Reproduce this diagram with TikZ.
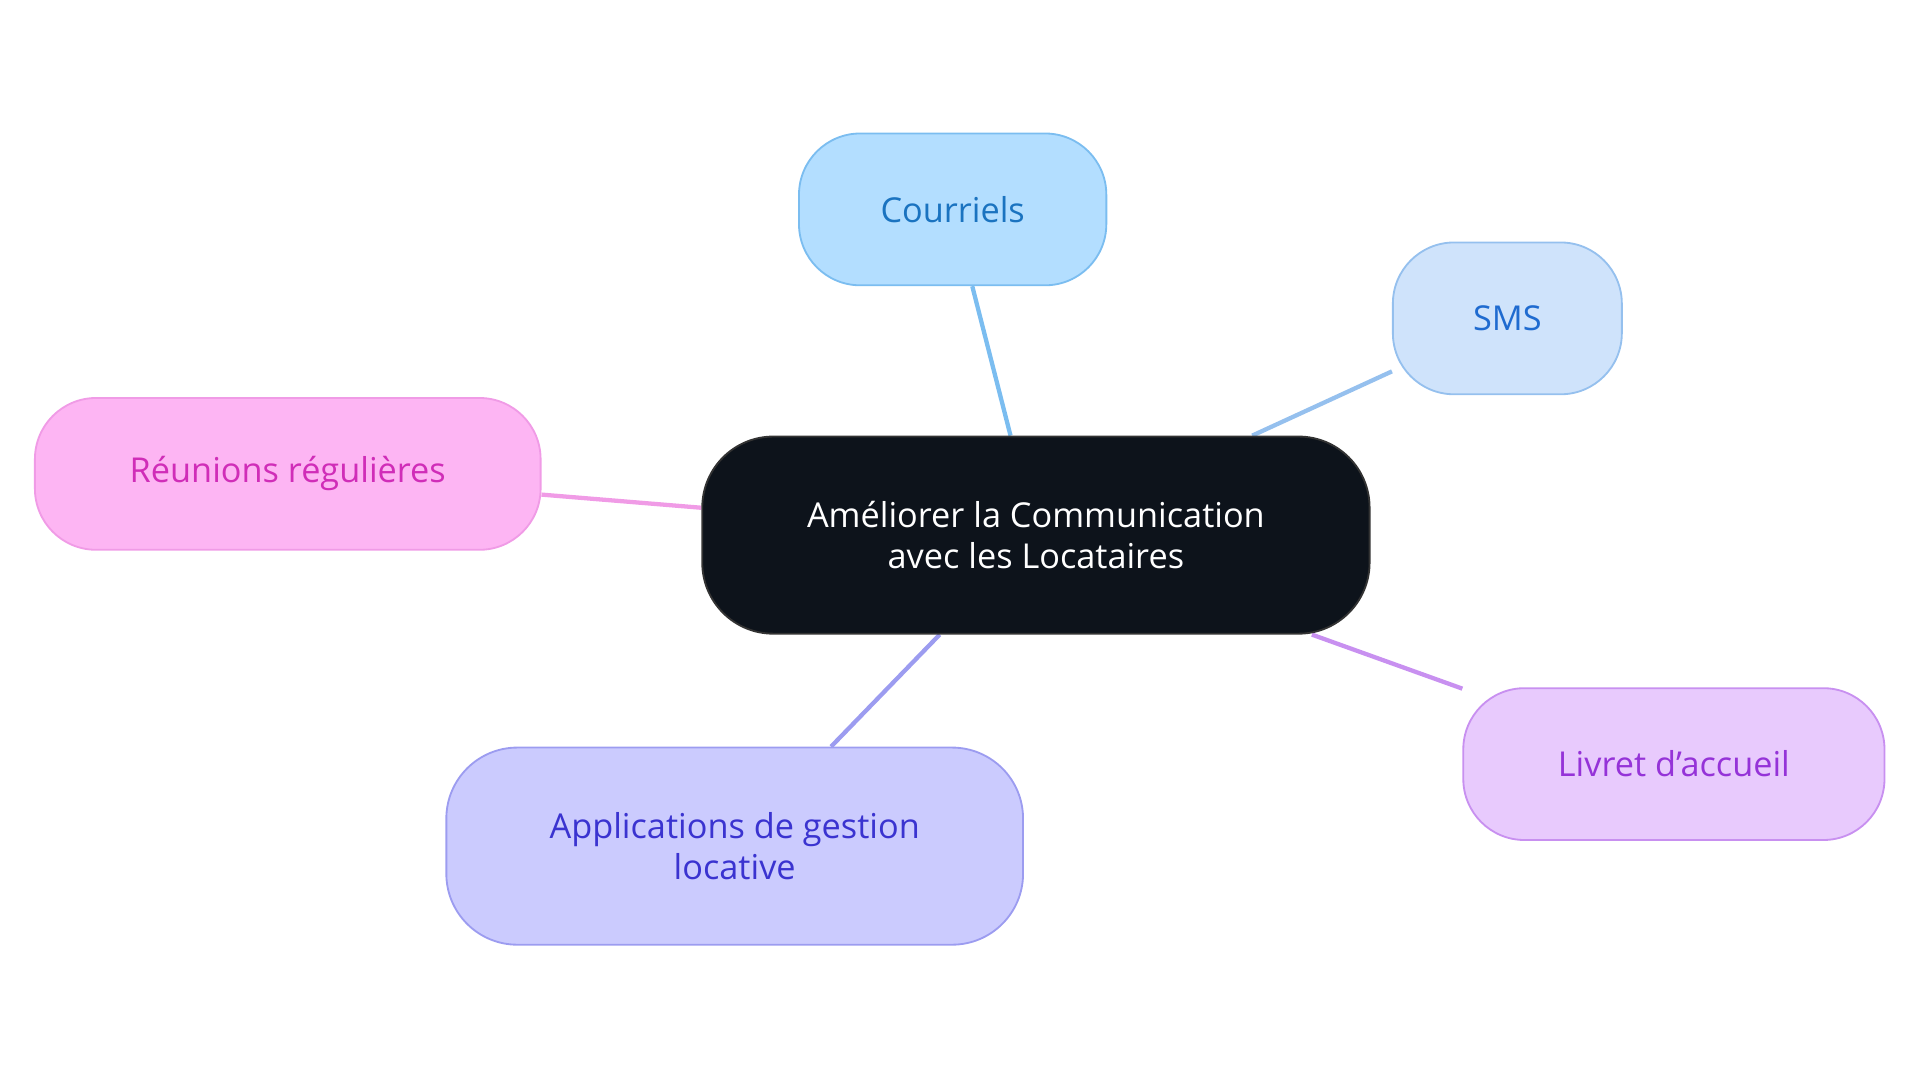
\documentclass[tikz,border=0pt]{standalone}
\usepackage{fontspec}
\setmainfont{Open Sans}
\usetikzlibrary{positioning,backgrounds}
\definecolor{coreFill}{HTML}{0D131B}
\definecolor{mailFill}{HTML}{B3DEFF}\definecolor{mailLine}{HTML}{7BBDF0}\definecolor{mailText}{HTML}{1A73C0}
\definecolor{smsFill}{HTML}{CFE3FB}\definecolor{smsLine}{HTML}{95C0EE}\definecolor{smsText}{HTML}{1F6BD0}
\definecolor{meetFill}{HTML}{FDB5F3}\definecolor{meetLine}{HTML}{F09BE6}\definecolor{meetText}{HTML}{D02DB8}
\definecolor{appFill}{HTML}{CBCBFE}\definecolor{appLine}{HTML}{9C9CF0}\definecolor{appText}{HTML}{3A33D0}
\definecolor{bookFill}{HTML}{E8CAFD}\definecolor{bookLine}{HTML}{C890F0}\definecolor{bookText}{HTML}{9533D8}
\tikzset{
  topic/.style={rounded corners=50pt, line width=1.5pt, align=center, inner sep=0pt,
    minimum height=124pt, font=\fontsize{28}{34}\selectfont},
  link/.style={line width=3.5pt}
}
\begin{document}
\begin{tikzpicture}[x=1pt,y=-1pt]
  \useasboundingbox (0,0) rectangle (1568,884);
  \node[topic, fill=coreFill, draw=black!80, text=white, minimum width=545pt, minimum height=161pt, rounded corners=58pt]
    (core) at (846,437) {Améliorer la Communication\\avec les Locataires};
  \node[topic, fill=mailFill, draw=mailLine, text=mailText, minimum width=251pt] (mail) at (778,171) {Courriels};
  \node[topic, fill=smsFill, draw=smsLine, text=smsText, minimum width=187pt] (sms) at (1231,260) {SMS};
  \node[topic, fill=meetFill, draw=meetLine, text=meetText, minimum width=413pt] (meet) at (235,387) {Réunions régulières};
  \node[topic, fill=appFill, draw=appLine, text=appText, minimum width=471pt, minimum height=161pt, rounded corners=58pt]
    (app) at (600,691) {Applications de gestion\\locative};
  \node[topic, fill=bookFill, draw=bookLine, text=bookText, minimum width=344pt] (book) at (1367,624) {Livret d'accueil};
  % links
  \begin{scope}[on background layer]
    \draw[link, mailLine] (core) -- (mail);
    \draw[link, smsLine] (core) -- (sms);
    \draw[link, meetLine] (core) -- (meet);
    \draw[link, appLine] (core) -- (app);
    \draw[link, bookLine] (core) -- (book);
  \end{scope}
\end{tikzpicture}
\end{document}
